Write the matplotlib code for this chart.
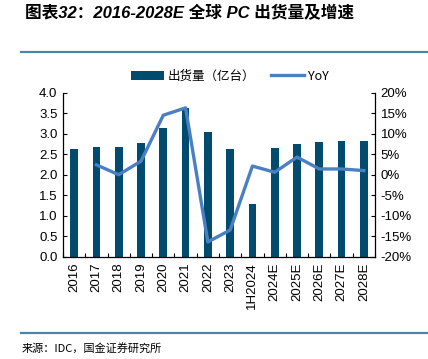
import matplotlib
matplotlib.use("Agg")
import matplotlib.pyplot as plt
import numpy as np
from matplotlib.ticker import FuncFormatter, FixedLocator, MultipleLocator

plt.rcParams['font.family'] = ['Liberation Sans', 'Noto Sans CJK SC', 'DejaVu Sans']

categories = ["2016", "2017", "2018", "2019", "2020", "2021", "2022", "2023",
              "1H2024", "2024E", "2025E", "2026E", "2027E", "2028E"]
shipments = [2.62, 2.68, 2.68, 2.77, 3.15, 3.63, 3.03, 2.62, 1.28, 2.66, 2.74, 2.80, 2.83, 2.83]
yoy = [np.nan, 2.4, 0.0, 3.3, 14.5, 16.3, -16.4, -13.5, 2.1, 0.6, 4.3, 1.4, 1.4, 1.0]

bar_color = "#004b6e"
line_color = "#4a80c3"
rule_color = "#4d86a3"

fig = plt.figure(figsize=(4.28, 3.59), dpi=100)
ax = fig.add_axes([63/428, 1-256.7/359, (375-63)/428, (256.7-92.7)/359])
x = np.arange(len(categories))
bars = ax.bar(x, shipments, width=0.34, color=bar_color, label="出货量（亿台）", zorder=2)
ax.set_xlim(-0.5, len(categories)-0.5)
ax.set_ylim(0, 4.0)
ax.yaxis.set_major_locator(MultipleLocator(0.5))
ax.yaxis.set_major_formatter(FuncFormatter(lambda v, p: f"{v:.1f}"))
ax.set_xticks(x)
ax.set_xticklabels(categories, rotation=90)
ax.xaxis.set_minor_locator(FixedLocator(np.arange(-0.5, len(categories), 1.0)))
ax.tick_params(axis='x', which='major', length=0, labelsize=9.5, pad=4)
ax.tick_params(axis='x', which='minor', length=3, direction='in', width=0.8)
ax.tick_params(axis='y', direction='in', length=3, width=0.8, labelsize=9.5, pad=4)
for s in ['top', 'right']:
    ax.spines[s].set_visible(False)
for s in ['left', 'bottom']:
    ax.spines[s].set_linewidth(0.9)

ax2 = ax.twinx()
line, = ax2.plot(x, yoy, color=line_color, linewidth=2.4, label="YoY", zorder=3)
ax2.set_ylim(-20, 20)
ax2.yaxis.set_major_locator(MultipleLocator(5))
ax2.yaxis.set_major_formatter(FuncFormatter(lambda v, p: f"{v:.0f}%"))
ax2.tick_params(axis='y', direction='in', length=3, width=0.8, labelsize=9.5, pad=4)
for s in ['top', 'left', 'bottom']:
    ax2.spines[s].set_visible(False)
ax2.spines['right'].set_linewidth(0.9)

fig.legend([bars, line], ["出货量（亿台）", "YoY"], loc='center left',
           bbox_to_anchor=(120/428, 1-76/359), ncol=2, frameon=False,
           handlelength=2.6, handletextpad=0.3, columnspacing=1.3,
           prop={'family': ['Noto Sans CJK SC', 'Liberation Sans'], 'size': 9})

fig.text(25/428, 1-13/359, "图表32：2016-2028E 全球 PC 出货量及增速", fontsize=12,
         fontweight='bold', fontstyle='italic', va='center', ha='left',
         family=['Liberation Sans', 'Noto Sans CJK SC'])
fig.add_artist(plt.Line2D([21/428, 1.0], [1-52/359, 1-52/359], color=rule_color, linewidth=1.6,
                          transform=fig.transFigure))
fig.add_artist(plt.Line2D([21/428, 1.0], [1-333/359, 1-333/359], color=rule_color, linewidth=1.6,
                          transform=fig.transFigure))
fig.text(22/428, 1-348/359, "来源：IDC，国金证券研究所", fontsize=8, va='center', ha='left',
         family=['Noto Sans CJK SC', 'Liberation Sans'])

fig.savefig("out.png", dpi=100)
